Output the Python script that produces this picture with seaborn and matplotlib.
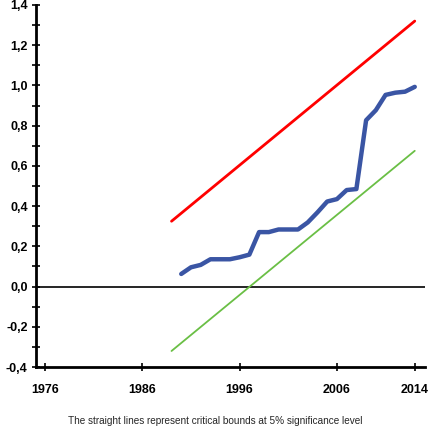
import matplotlib
matplotlib.use("Agg")
import matplotlib.pyplot as plt
import matplotlib.ticker as mticker
import seaborn as sns
import pandas as pd

# CUSUM statistic (blue)
years = [1990, 1991, 1992, 1993, 1994, 1995, 1996, 1997, 1998, 1999, 2000, 2001,
         2002, 2003, 2004, 2005, 2006, 2007, 2008, 2009, 2010, 2011, 2012, 2013, 2014]
cusum = [0.063, 0.096, 0.108, 0.136, 0.136, 0.136, 0.146, 0.159, 0.271, 0.271, 0.284, 0.284,
         0.284, 0.319, 0.369, 0.423, 0.435, 0.480, 0.485, 0.827, 0.877, 0.953, 0.964, 0.969, 0.993]

# critical bounds (straight lines)
bound_years = [1989, 2014]
upper_bound = [0.325, 1.32]
lower_bound = [-0.32, 0.675]

xticks = [1976, 1986, 1996, 2006, 2014]
caption = "The straight lines represent critical bounds at 5% significance level"

df = pd.DataFrame({"year": years, "cusum": cusum})
bounds = pd.DataFrame({"year": bound_years, "upper": upper_bound, "lower": lower_bound})

sns.set_style("white")
plt.rcParams['font.family'] = ['Liberation Sans', 'DejaVu Sans']

fig = plt.figure(figsize=(4.31, 4.37), dpi=100)
ax = fig.add_axes([0.0835, 0.160, 0.9025, 0.8286])

ax.axhline(0, color='black', lw=1.2, zorder=1)
sns.lineplot(data=bounds, x="year", y="upper", color='#ff0000', lw=2.0, ax=ax)
sns.lineplot(data=bounds, x="year", y="lower", color='#6abf45', lw=1.3, ax=ax)
sns.lineplot(data=df, x="year", y="cusum", color='#3a55a4', lw=3.2, ax=ax)

ax.set_xlim(1975.07, 2015.05)
ax.set_ylim(-0.4, 1.4)
ax.set_xticks(xticks)
ax.set_yticks([-0.4, -0.2, 0.0, 0.2, 0.4, 0.6, 0.8, 1.0, 1.2, 1.4])
ax.yaxis.set_minor_locator(mticker.MultipleLocator(0.1))
ax.yaxis.set_major_formatter(mticker.FuncFormatter(lambda v, p: f"{v:.1f}".replace('.', ',')))
ax.set_xlabel("")
ax.set_ylabel("")

for s in ['top', 'right']:
    ax.spines[s].set_visible(False)
for s in ['left', 'bottom']:
    ax.spines[s].set_linewidth(2)
    ax.spines[s].set_color('black')

ax.tick_params(axis='both', which='both', direction='inout', length=6, width=1.2,
               colors='black', labelsize=9, bottom=True, left=True)
ax.tick_params(axis='x', pad=9)
ax.tick_params(axis='y', pad=3)
for lab in ax.get_xticklabels() + ax.get_yticklabels():
    lab.set_fontweight('bold')

fig.text(0.5, 0.036, caption, ha='center', va='center', fontsize=7.2)

fig.savefig("out.png", dpi=100)
